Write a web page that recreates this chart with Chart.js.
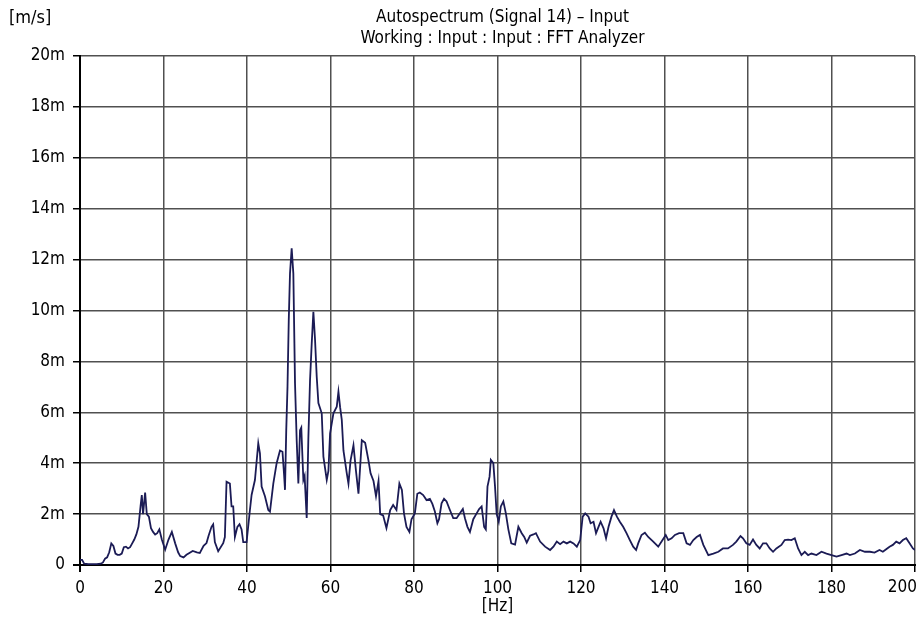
<!DOCTYPE html>
<html>
<head>
<meta charset="utf-8">
<script src="https://cdn.jsdelivr.net/npm/chart.js@4.4.1/dist/chart.umd.min.js"></script>
<style>
    html, body { margin: 0; padding: 0; background: #fff; }
</style>
</head>
<body>
<canvas id="grafico" width="918" height="621"></canvas>
<script>
// --- TEXTOS ---
const TITULO = ['Autospectrum (Signal 14) \u2013 Input', 'Working : Input : Input : FFT Analyzer'];
const UNIDADE_Y = '[m/s]';
const UNIDADE_X = '[Hz]';

// --- EIXOS ---
const TICKS_X = [0, 20, 40, 60, 80, 100, 120, 140, 160, 180, 200];
const TICKS_Y = [0, 2, 4, 6, 8, 10, 12, 14, 16, 18, 20];

// --- DADOS (frequência em Hz, amplitude em m/s x 1e-3) ---
const FREQ = [
    0, 0.5, 1, 2, 3, 4, 5, 5.5, 6, 6.5, 7, 7.5, 8, 8.5, 9, 9.5, 10, 10.5, 11, 11.5,
    12, 12.5, 13, 13.5, 14, 14.5, 14.8, 15.1, 15.6, 16, 16.5, 17, 17.5, 18, 18.5, 19, 19.6, 20.4, 21.2, 22,
    22.8, 23.5, 24, 24.8, 25.5, 26, 27, 28, 28.7, 29.6, 30.3, 30.8, 31.5, 31.9, 32.3, 33.1, 34.3, 34.7, 35.1, 35.9,
    36.3, 36.7, 37.1, 37.7, 38.2, 38.7, 39.1, 39.9, 40.7, 41.1, 41.9, 42.7, 43.1, 43.5, 44.3, 45.1, 45.5, 46.3, 47.1, 47.9,
    48.5, 48.9, 49.1, 49.4, 49.7, 50.0, 50.3, 50.7, 51.1, 51.5, 51.9, 52.3, 52.7, 53.0, 53.5, 53.8, 54.3, 54.7, 55.1, 55.5,
    55.9, 56.3, 56.7, 57.1, 57.9, 58.3, 59.1, 59.5, 59.9, 60.7, 61.5, 61.9, 62.3, 62.7, 63.1, 63.9, 64.3, 64.8, 65.5, 66.1,
    66.7, 67.5, 68.3, 69.1, 69.6, 70.3, 70.9, 71.5, 71.9, 72.6, 73.4, 74.3, 75.0, 75.8, 76.5, 77.1, 77.6, 78.2, 78.9, 79.4,
    80.2, 80.8, 81.4, 82.2, 83.0, 83.8, 84.4, 85.0, 85.6, 86.0, 86.6, 87.2, 87.8, 88.6, 89.4, 90.2, 91.0, 91.7, 92.2, 92.8,
    93.4, 94.2, 95.0, 95.6, 96.2, 96.8, 97.2, 97.6, 98.1, 98.4, 99.0, 99.4, 99.8, 100.3, 100.8, 101.4, 102.0, 102.6, 103.3, 104.2,
    105.0, 105.8, 106.4, 107.0, 107.8, 108.6, 109.2, 110.2, 111.4, 112.6, 113.4, 114.2, 115.0, 115.8, 116.6, 117.4, 118.2, 119.0, 119.8, 120.4,
    121.0, 121.8, 122.3, 123.0, 123.6, 124.2, 124.7, 125.4, 126.0, 126.6, 127.3, 127.9, 128.6, 129.3, 130.1, 130.9, 131.7, 132.5, 133.2, 133.7,
    134.5, 135.3, 136.1, 137.3, 138.5, 139.3, 140.3, 140.9, 141.7, 142.5, 143.5, 144.5, 145.3, 146.1, 146.9, 147.7, 148.5, 149.3, 150.5, 151.7,
    152.9, 154.0, 155.2, 156.4, 157.2, 158.2, 158.8, 159.6, 160.4, 161.2, 162.0, 162.8, 163.6, 164.4, 165.2, 166.0, 166.8, 168.0, 168.8, 169.6,
    170.4, 171.2, 172.0, 172.8, 173.6, 174.4, 175.2, 176.4, 177.6, 178.8, 180.0, 181.2, 182.4, 183.6, 184.4, 185.6, 186.8, 188.0, 189.2, 190.3,
    191.5, 192.3, 193.1, 193.9, 194.7, 195.5, 196.3, 197.1, 197.9, 198.7, 199.5, 200
];
const AMPLITUDE = [
    0.2, 0.2, 0.05, 0.03, 0.03, 0.03, 0.05, 0.1, 0.25, 0.3, 0.5, 0.85, 0.75, 0.45, 0.4, 0.4, 0.45, 0.7, 0.72, 0.65,
    0.7, 0.85, 1.0, 1.2, 1.5, 2.3, 2.75, 2.0, 2.85, 2.0, 1.9, 1.45, 1.3, 1.2, 1.25, 1.4, 1.0, 0.6, 1.0, 1.3,
    0.85, 0.5, 0.35, 0.3, 0.4, 0.45, 0.55, 0.5, 0.47, 0.75, 0.86, 1.15, 1.5, 1.6, 0.9, 0.54, 0.86, 1.1, 3.27, 3.2,
    2.3, 2.3, 1.1, 1.5, 1.6, 1.4, 0.9, 0.9, 2.16, 2.75, 3.34, 4.78, 4.39, 3.08, 2.7, 2.16, 2.1, 3.2, 4.0, 4.5,
    4.45, 3.5, 2.95, 5.3, 7.0, 9.6, 11.46, 12.44, 11.46, 7.14, 4.9, 3.2, 5.3, 5.4, 3.34, 3.5, 1.85, 5.0, 7.27, 8.7,
    9.95, 8.84, 7.4, 6.36, 5.96, 4.26, 3.34, 3.7, 5.17, 5.96, 6.22, 6.81, 6.2, 5.7, 4.5, 3.6, 3.2, 4.1, 4.7, 3.7,
    2.8, 4.9, 4.8, 4.1, 3.6, 3.3, 2.7, 3.3, 2.0, 1.95, 1.45, 2.16, 2.36, 2.16, 3.2, 2.95, 2.03, 1.5, 1.3, 1.8,
    2.03, 2.8, 2.85, 2.75, 2.55, 2.6, 2.4, 2.1, 1.64, 1.8, 2.42, 2.6, 2.5, 2.16, 1.84, 1.84, 2.03, 2.2, 1.84, 1.5,
    1.3, 1.8, 2.03, 2.2, 2.3, 1.5, 1.4, 3.08, 3.47, 4.13, 4.0, 3.1, 2.0, 1.7, 2.3, 2.5, 2.03, 1.4, 0.85, 0.8,
    1.5, 1.25, 1.1, 0.88, 1.15, 1.2, 1.25, 0.92, 0.72, 0.59, 0.72, 0.92, 0.82, 0.92, 0.85, 0.92, 0.85, 0.72, 0.98, 1.9,
    2.03, 1.9, 1.64, 1.7, 1.25, 1.5, 1.7, 1.44, 1.05, 1.5, 1.9, 2.16, 1.9, 1.7, 1.5, 1.25, 0.98, 0.72, 0.59, 0.85,
    1.18, 1.27, 1.1, 0.92, 0.72, 0.92, 1.18, 0.98, 1.05, 1.18, 1.25, 1.25, 0.85, 0.79, 0.98, 1.1, 1.18, 0.79, 0.39, 0.45,
    0.52, 0.65, 0.65, 0.79, 0.92, 1.14, 1.05, 0.85, 0.79, 1.0, 0.79, 0.65, 0.85, 0.85, 0.65, 0.52, 0.65, 0.79, 0.98, 1.0,
    0.98, 1.05, 0.65, 0.39, 0.52, 0.39, 0.45, 0.39, 0.52, 0.45, 0.39, 0.33, 0.39, 0.45, 0.39, 0.45, 0.59, 0.52, 0.52, 0.49,
    0.59, 0.52, 0.62, 0.72, 0.79, 0.92, 0.85, 0.98, 1.05, 0.85, 0.65, 0.59
];

const FONTE = "'Liberation Sans Narrow', 'DejaVu Sans Condensed', 'Liberation Sans', Arial, sans-serif";
const COR_LINHA = '#1b1b55';
const COR_GRADE = '#505050';
const LARGURA = 918;

// Área do gráfico fixa (igual à referência)
const AREA = { left: 80, right: 915, top: 56, bottom: 565 };

// Plugin para títulos, unidades e último rótulo do eixo X (ajustado à borda)
const textosExtras = {
    id: 'textosExtras',
    afterDraw(chart) {
        const { ctx, chartArea, scales } = chart;
        const cx = (chartArea.left + chartArea.right) / 2;
        ctx.save();
        ctx.fillStyle = '#000';
        ctx.textBaseline = 'middle';
        ctx.font = '17px ' + FONTE;
        ctx.textAlign = 'center';
        ctx.fillText(TITULO[0], cx + 5, 18);
        ctx.fillText(TITULO[1], cx + 5, 39);
        ctx.textAlign = 'left';
        ctx.font = '18px ' + FONTE;
        ctx.fillText(UNIDADE_Y, 9, 18);
        ctx.font = '17px ' + FONTE;
        ctx.textAlign = 'center';
        ctx.fillText(UNIDADE_X, cx, 607);

        // rótulo final (200) deslocado para caber no canvas
        const ultimo = TICKS_X[TICKS_X.length - 1];
        const txt = String(ultimo);
        const meia = ctx.measureText(txt).width / 2;
        const px = Math.min(scales.x.getPixelForValue(ultimo), LARGURA - meia - 1);
        ctx.fillText(txt, px, 588);
        ctx.restore();
    }
};

const ctx = document.getElementById('grafico');

new Chart(ctx, {
    type: 'line',
    data: {
        datasets: [{
            label: 'Autospectrum',
            data: FREQ.map((f, i) => ({ x: f, y: AMPLITUDE[i] })),
            borderColor: COR_LINHA,
            borderWidth: 1.8,
            pointRadius: 0,
            tension: 0,
            fill: false
        }]
    },
    options: {
        responsive: false,
        animation: false,
        layout: {
            padding: { top: AREA.top, left: 0, right: LARGURA - AREA.right, bottom: 0 }
        },
        plugins: {
            legend: { display: false },
            tooltip: { enabled: false },
            title: { display: false }
        },
        scales: {
            x: {
                type: 'linear',
                min: 0,
                max: 200,
                afterBuildTicks: (scale) => { scale.ticks = TICKS_X.map(v => ({ value: v })); },
                afterFit: (scale) => {
                    scale.height = 621 - AREA.bottom;
                    scale.paddingLeft = 0;
                    scale.paddingRight = 0;
                },
                ticks: {
                    color: '#000',
                    padding: 6,
                    maxRotation: 0,
                    font: { family: FONTE, size: 17 },
                    callback: (v) => v === TICKS_X[TICKS_X.length - 1] ? '' : String(v)
                },
                grid: {
                    color: (c) => c.tick && c.tick.value === 0 ? '#000' : COR_GRADE,
                    lineWidth: (c) => c.tick && c.tick.value === 0 ? 2 : 1.5,
                    tickColor: '#000',
                    tickLength: 7
                },
                border: { display: true, color: '#000', width: 2 }
            },
            y: {
                type: 'linear',
                min: 0,
                max: 20,
                afterBuildTicks: (scale) => { scale.ticks = TICKS_Y.map(v => ({ value: v })); },
                afterFit: (scale) => {
                    scale.width = AREA.left;
                    scale.paddingTop = 0;
                    scale.paddingBottom = 0;
                },
                ticks: {
                    color: '#000',
                    padding: 8,
                    font: { family: FONTE, size: 17 },
                    callback: (v) => v === 0 ? '0' : v + 'm'
                },
                grid: {
                    color: (c) => c.tick && c.tick.value === 0 ? '#000' : COR_GRADE,
                    lineWidth: (c) => c.tick && c.tick.value === 0 ? 2 : 1.5,
                    tickColor: '#000',
                    tickLength: 7
                },
                border: { display: true, color: '#000', width: 2 }
            }
        }
    },
    plugins: [textosExtras]
});
</script>
</body>
</html>
